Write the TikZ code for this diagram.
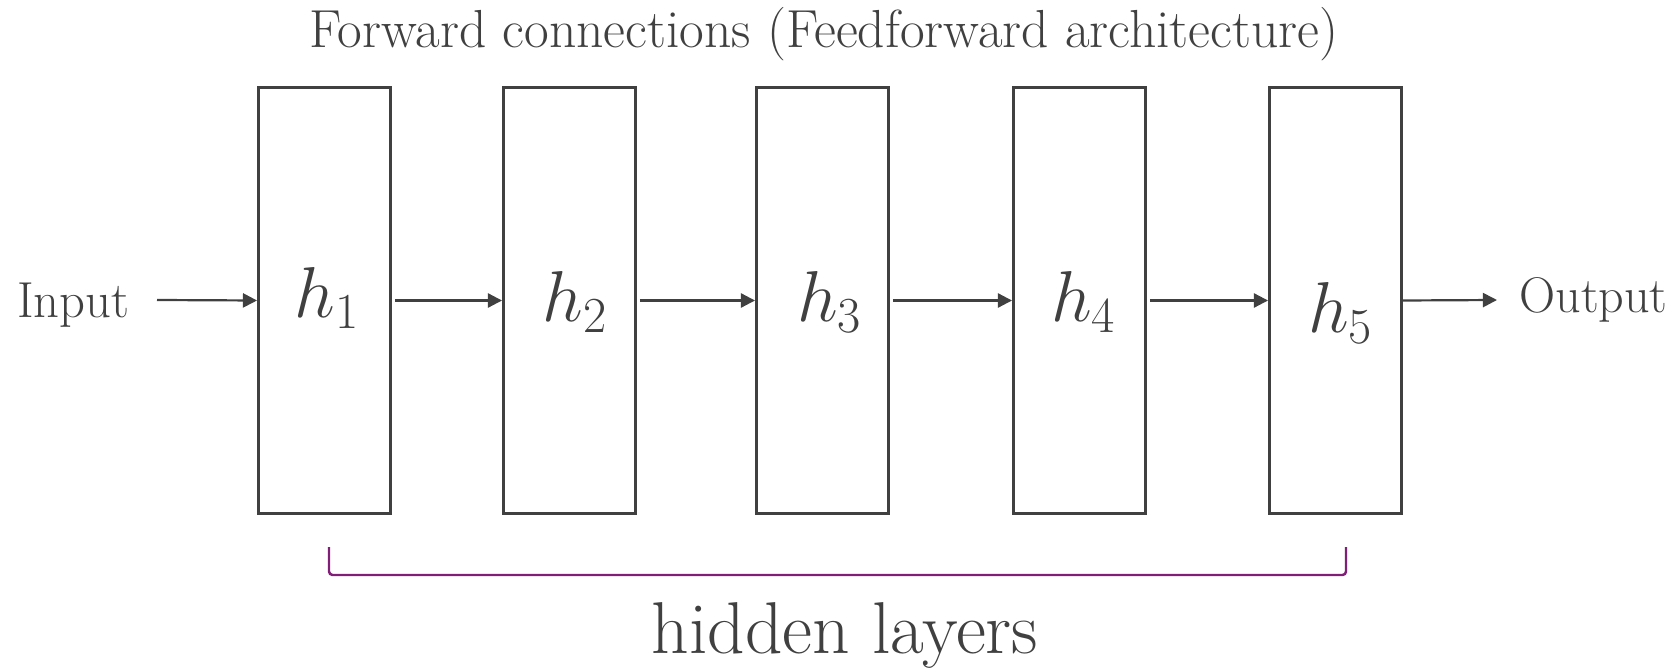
\RequirePackage{fix-cm}
\documentclass[tikz,border=0pt]{standalone}
\usepackage{fontspec}
\usetikzlibrary{arrows.meta}

\definecolor{ink}{RGB}{64,64,64}
\definecolor{bracepurple}{RGB}{128,30,120}

\tikzset{
  layer/.style={draw=ink,line width=1.7pt,minimum width=2.64cm,
                minimum height=8.52cm,inner sep=0pt},
  hlab/.style={anchor=base,text=ink,inner sep=0pt,
               font=\fontsize{41}{49}\selectfont},
  txt/.style={text=ink,inner sep=0pt},
  conn/.style={draw=ink,line width=1.25pt,
               -{Triangle[length=8pt,width=8pt]}},
  brace/.style={draw=bracepurple,line width=1.4pt,rounded corners=2pt}
}

\begin{document}
\begin{tikzpicture}[x=0.02cm,y=-0.02cm]
  \useasboundingbox (0,0) rectangle (1678,672);

  % Title
  \node[txt,anchor=base,font=\fontsize{30.5}{36}\selectfont] (title)
        at (824,48) {Forward connections (Feedforward architecture)};

  % --- Hidden layers ---
  \node[layer] (h1) at (324.5,300.5) {};
  \node[layer] (h2) at (569.5,300.5) {};
  \node[layer] (h3) at (822.5,300.5) {};
  \node[layer] (h4) at (1079.5,300.5) {};
  \node[layer] (h5) at (1335.5,300.5) {};

  % --- Layer labels ---
  \node[hlab] (l1) at (327,318) {$h_1$};
  \node[hlab] (l2) at (575,322) {$h_2$};
  \node[hlab] (l3) at (829.5,322) {$h_3$};
  \node[hlab] (l4) at (1083.5,322) {$h_4$};
  \node[hlab] (l5) at (1340.5,333) {$h_5$};

  % --- Input / output ---
  \node[txt,anchor=base west,font=\fontsize{28.8}{34}\selectfont] (in)
        at (17,318) {Input};
  \node[txt,anchor=base west,font=\fontsize{28.5}{34}\selectfont] (out)
        at (1519,313) {Output};
  \coordinate (instart) at (157,300);
  \coordinate (outend) at (1497,300);

  % --- Connections ---
  \draw[conn] (instart) -- (h1.west);
  \draw[conn] ([xshift=0.06cm]h1.east) -- (h2.west);
  \draw[conn] ([xshift=0.06cm]h2.east) -- (h3.west);
  \draw[conn] ([xshift=0.06cm]h3.east) -- (h4.west);
  \draw[conn] ([xshift=0.06cm]h4.east) -- (h5.west);
  \draw[conn] (h5.east) -- (outend);

  % --- Bracket ---
  \draw[brace] (329,547) -- (329,575) -- (1346,575) -- (1346,547);
  \node[txt,anchor=base,font=\fontsize{41.8}{50}\selectfont] (hidden)
        at (845,653) {hidden layers};
\end{tikzpicture}
\end{document}
